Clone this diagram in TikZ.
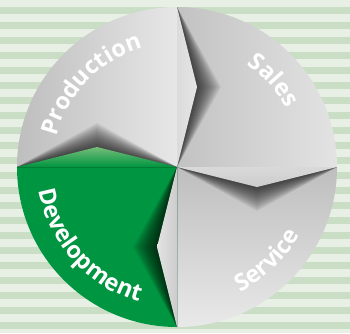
\documentclass[tikz,border=0pt]{standalone}
\usepackage{fontspec}
\newfontfamily\labfamily{Open Sans}
\usetikzlibrary{decorations.text}
\definecolor{bglight}{HTML}{E8F0E5}
\definecolor{bgstripe}{HTML}{C9DEC5}
\definecolor{devgreen}{HTML}{009540}
\definecolor{devlight}{HTML}{74BD79}
\definecolor{prodL}{HTML}{BEBEBE}
\definecolor{prodR}{HTML}{E7E7E7}
\definecolor{salesL}{HTML}{C2C2C2}
\definecolor{salesR}{HTML}{E3E3E3}
\definecolor{servT}{HTML}{BEBEBE}
\definecolor{servB}{HTML}{E9E9E9}
\newcommand\labfont{\labfamily\bfseries\fontsize{23.5}{23.5}\selectfont}
\begin{document}
\begin{tikzpicture}[x=1pt,y=1pt,
  lab/.style={decorate, decoration={text along path, text align=center, text color=white, text={#1}}},
  shadowlayer/.style={fill=black, fill opacity=0.06}]
\useasboundingbox (-177,-166) rectangle (173,167);
% background stripes
\fill[bglight] (-177,-166) rectangle (173,167);
\foreach \k in {0,...,21} {
  \fill[bgstripe] (-177,{167-7.3-15*\k}) rectangle (173,{167-14.3-15*\k});
}
% quadrants
\shade[left color=prodL, right color=prodR] (0,0) -- (-160,0) arc (180:90:160) -- cycle;
\shade[left color=salesL, right color=salesR] (0,0) -- (0,160) arc (90:0:160) -- cycle;
\shade[top color=servT, bottom color=servB] (0,0) -- (160,0) arc (0:-90:160) -- cycle;
\fill[devgreen] (0,0) -- (0,-160) arc (-90:-180:160) -- cycle;
% shadows of the folds
\begin{scope}
  \clip (0,0) -- (0,160) arc (90:0:160) -- cycle;
  \foreach \s in {1.5,3,...,24} \fill[shadowlayer] (0,160) -- (20+\s,80) -- (0,0) -- cycle;
\end{scope}
\begin{scope}
  \clip (0,0) -- (160,0) arc (0:-90:160) -- cycle;
  \foreach \s in {1.5,3,...,24} \fill[shadowlayer] (0,0) -- (80,-20-\s) -- (160,0) -- cycle;
\end{scope}
\begin{scope}
  \clip (0,0) -- (0,-160) arc (-90:-180:160) -- cycle;
  \foreach \s in {1.5,3,...,24} \fill[shadowlayer] (0,0) -- (-20-\s,-80) -- (0,-160) -- cycle;
\end{scope}
\begin{scope}
  \clip (0,0) -- (-160,0) arc (180:90:160) -- cycle;
  \foreach \s in {1.5,3,...,24} \fill[shadowlayer] (-160,0) -- (-80,20+\s) -- (0,0) -- cycle;
\end{scope}
% fold wedges
\shade[left color=black!14, right color=black!10] (0,160) -- (20,80) -- (0,0) -- cycle;
\shade[top color=black!15, bottom color=black!20] (0,0) -- (80,-20) -- (160,0) -- cycle;
\shade[left color=black!11, right color=black!20] (0,0) -- (-20,-80) -- (0,-160) -- cycle;
\shade[top color=devlight, bottom color=devgreen] (-160,0) -- (-80,20) -- (0,0) -- cycle;
% labels
\path[lab={|\labfont|Production}] (181:124) arc (181:91:124);
\path[lab={|\labfont|Sales}] (87:124) arc (87:-3:124);
\path[lab={|\labfont|Service}] (-91:140) arc (-91:-1:140);
\path[lab={|\labfont|Development}] (177:140) arc (177:267:140);
\end{tikzpicture}
\end{document}
